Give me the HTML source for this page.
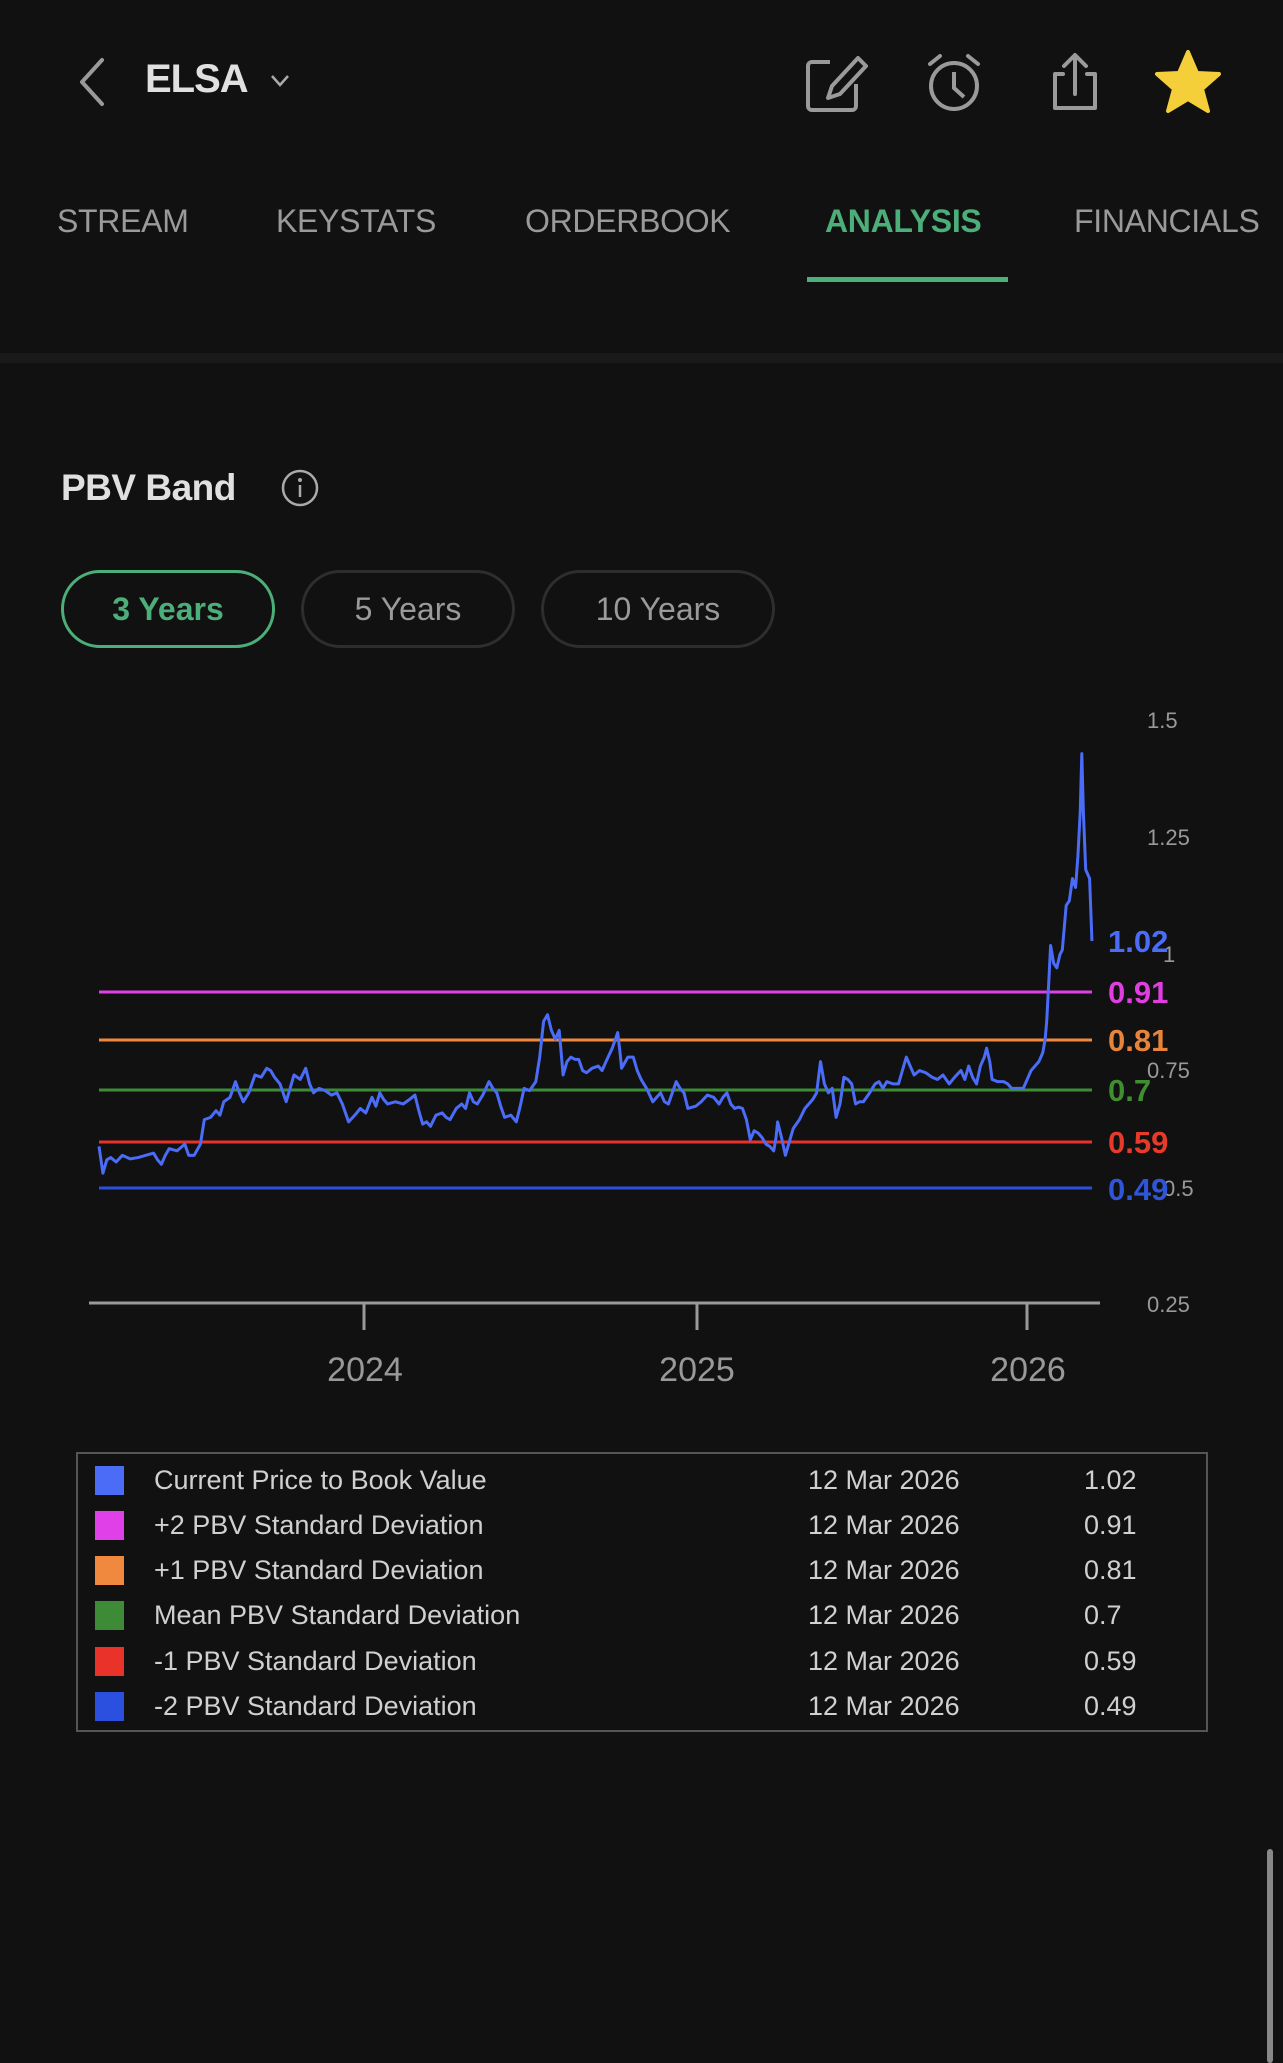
<!DOCTYPE html>
<html><head><meta charset="utf-8">
<style>
body{margin:0;width:1283px;height:2063px;background:#111111;font-family:"Liberation Sans",sans-serif;position:relative;overflow:hidden;color:#ddd}
.a{position:absolute;white-space:nowrap}
.tab{position:absolute;top:203px;font-size:32px;color:#9a9a9a;letter-spacing:-0.3px}
.pill{position:absolute;top:570px;height:78px;border:3px solid #2e2e2e;border-radius:40px;box-sizing:border-box;font-size:32px;color:#9a9a9a;text-align:center;line-height:72px}
.lg{position:absolute;font-size:27px;color:#d0d0d0}
.sq{position:absolute;left:95px;width:29px;height:29px}
</style></head><body>
<svg class="a" style="left:0;top:0" width="1283" height="140">
<polyline points="102,60 82,82 102,104" fill="none" stroke="#9a9a9a" stroke-width="4" stroke-linecap="round" stroke-linejoin="round"/>
<polyline points="272,76 280,85 288,76" fill="none" stroke="#aaa" stroke-width="2.5"/>
<path d="M830 62 h-18 a4 4 0 0 0 -4 4 v40 a4 4 0 0 0 4 4 h40 a4 4 0 0 0 4 -4 v-22" fill="none" stroke="#9a9a9a" stroke-width="4"/>
<path d="M858 58 l8 8 l-26 28 l-12 4 l4 -12 z" fill="none" stroke="#9a9a9a" stroke-width="4" stroke-linejoin="round"/>
<circle cx="954" cy="86" r="23" fill="none" stroke="#9a9a9a" stroke-width="4"/>
<polyline points="954,72 954,88 964,97" fill="none" stroke="#9a9a9a" stroke-width="4"/>
<path d="M930 64 l10 -8 M978 64 l-10 -8" stroke="#9a9a9a" stroke-width="4" stroke-linecap="round"/>
<path d="M1063 74 h-8 v34 h40 v-34 h-8 M1075 94 v-38 M1064 66 l11 -11 l11 11" fill="none" stroke="#9a9a9a" stroke-width="4" stroke-linejoin="round" stroke-linecap="round"/>
<polygon points="1188,52 1197,73 1219,74 1202,89 1208,111 1188,99 1168,111 1174,89 1157,74 1179,73" fill="#f5cf3a" stroke="#f5cf3a" stroke-width="4" stroke-linejoin="round"/>
</svg>
<div class="a" style="left:145px;top:57px;font-size:40px;font-weight:bold;color:#e0e0e0;letter-spacing:-1px">ELSA</div>
<div class="tab" style="left:57px">STREAM</div>
<div class="tab" style="left:276px">KEYSTATS</div>
<div class="tab" style="left:525px">ORDERBOOK</div>
<div class="tab" style="left:825px;color:#4caf7a;font-weight:bold">ANALYSIS</div>
<div class="tab" style="left:1074px">FINANCIALS</div>
<div class="a" style="left:807px;top:277px;width:201px;height:5px;background:#4caf7a"></div>
<div class="a" style="left:0;top:353px;width:1283px;height:10px;background:#1a1a1a"></div>
<div class="a" style="left:61px;top:467px;font-size:37px;font-weight:bold;color:#e0e0e0;letter-spacing:-0.5px">PBV Band</div>
<svg class="a" style="left:280px;top:468px" width="40" height="40"><circle cx="20" cy="20" r="17" fill="none" stroke="#aaa" stroke-width="2.5"/><circle cx="20" cy="12" r="2" fill="#aaa"/><line x1="20" y1="17" x2="20" y2="29" stroke="#aaa" stroke-width="2.5"/></svg>
<div class="pill" style="left:61px;width:214px;border-color:#4caf7a;color:#4caf7a;font-weight:bold">3 Years</div>
<div class="pill" style="left:301px;width:214px">5 Years</div>
<div class="pill" style="left:541px;width:234px">10 Years</div>
<svg class="a" style="left:0;top:0" width="1283" height="1420">
<g font-family="Liberation Sans" font-size="22" fill="#999">
<text x="1147" y="728">1.5</text><text x="1147" y="845">1.25</text><text x="1163" y="962">1</text>
<text x="1147" y="1078">0.75</text><text x="1163" y="1196">0.5</text><text x="1147" y="1312">0.25</text>
</g>
<line x1="99" y1="992" x2="1092" y2="992" stroke="#e040e8" stroke-width="3"/>
<line x1="99" y1="1040" x2="1092" y2="1040" stroke="#f0883e" stroke-width="3"/>
<line x1="99" y1="1090" x2="1092" y2="1090" stroke="#3d8b37" stroke-width="3"/>
<line x1="99" y1="1142" x2="1092" y2="1142" stroke="#e8322a" stroke-width="3"/>
<line x1="99" y1="1188" x2="1092" y2="1188" stroke="#2b50e0" stroke-width="3"/>
<g transform="translate(60,700) scale(0.78,0.4464)">
<polyline fill="none" stroke="#4a6cf7" stroke-width="3" vector-effect="non-scaling-stroke" stroke-linejoin="round" points="50,1000 55,1060 60,1030 65,1025 72,1035 80,1020 90,1028 100,1025 110,1020 120,1015 125,1030 130,1040 135,1020 140,1005 150,1010 160,995 165,1020 172,1020 180,995 185,940 193,935 200,920 205,930 210,900 218,890 225,855 230,880 235,900 242,880 250,840 258,845 265,825 270,830 275,845 282,860 290,900 295,870 300,840 308,850 315,825 320,860 325,880 332,870 340,875 348,885 355,880 362,905 370,945 378,930 385,915 392,925 400,890 405,910 410,880 415,895 420,905 430,900 440,905 448,895 455,885 460,920 465,950 470,945 475,955 482,930 490,925 495,935 500,940 508,915 515,905 520,915 525,880 530,900 535,905 542,885 550,855 555,870 560,880 565,910 570,935 578,930 585,945 590,910 595,870 602,875 610,855 615,800 620,720 625,705 630,740 635,760 640,740 645,840 650,810 655,800 660,805 665,805 670,830 675,835 682,825 690,820 695,830 700,810 708,780 715,745 718,790 720,825 728,800 735,800 740,830 745,850 752,870 760,900 765,890 770,880 775,900 780,905 785,880 790,855 795,870 800,880 805,915 815,910 822,900 830,885 838,890 845,905 850,890 855,880 860,905 865,915 870,912 875,915 880,940 885,985 890,965 895,970 900,980 905,995 910,1000 915,1010 918,980 920,945 925,980 930,1020 935,990 940,960 948,940 955,915 960,905 965,895 970,880 975,810 980,860 985,880 990,870 995,935 1000,905 1005,845 1010,850 1015,860 1020,905 1025,900 1030,900 1038,880 1045,860 1050,855 1055,870 1060,855 1068,860 1075,860 1080,830 1085,800 1090,820 1095,840 1102,830 1110,835 1118,845 1125,850 1132,840 1140,860 1147,845 1155,830 1160,850 1165,820 1170,845 1175,860 1180,820 1185,800 1188,780 1192,810 1195,850 1202,855 1210,855 1215,860 1220,870 1228,870 1235,870 1240,850 1245,830 1250,820 1255,810 1260,790 1263,760 1265,720 1268,620 1270,550 1274,590 1278,600 1282,570 1285,560 1288,500 1290,460 1294,450 1298,400 1302,420 1305,350 1308,250 1310,120 1312,250 1315,380 1320,400 1323,540"/>
</g>
<g font-family="Liberation Sans" font-weight="bold" font-size="31">
<text x="1108" y="952" fill="#4a6cf7">1.02</text>
<text x="1108" y="1003" fill="#e03ee0">0.91</text>
<text x="1108" y="1051" fill="#e8843a">0.81</text>
<text x="1108" y="1101" fill="#3f8f2f">0.7</text>
<text x="1108" y="1153" fill="#e63a2a">0.59</text>
<text x="1108" y="1200" fill="#2f55d8">0.49</text>
</g>
<line x1="89" y1="1303" x2="1100" y2="1303" stroke="#999" stroke-width="3"/>
<g stroke="#999" stroke-width="3"><line x1="364" y1="1303" x2="364" y2="1330"/><line x1="697" y1="1303" x2="697" y2="1330"/><line x1="1027" y1="1303" x2="1027" y2="1330"/></g>
<g font-family="Liberation Sans" font-size="34" fill="#999" text-anchor="middle"><text x="365" y="1381">2024</text><text x="697" y="1381">2025</text><text x="1028" y="1381">2026</text></g>
</svg>
<div class="a" style="left:76px;top:1452px;width:1132px;height:280px;border:2px solid #555;box-sizing:border-box"></div>
<div class="sq" style="top:1466px;background:#4a6cf7"></div><div class="lg" style="left:154px;top:1465px">Current Price to Book Value</div><div class="lg" style="left:808px;top:1465px">12 Mar 2026</div><div class="lg" style="left:1084px;top:1465px">1.02</div>
<div class="sq" style="top:1511px;background:#e040e8"></div><div class="lg" style="left:154px;top:1510px">+2 PBV Standard Deviation</div><div class="lg" style="left:808px;top:1510px">12 Mar 2026</div><div class="lg" style="left:1084px;top:1510px">0.91</div>
<div class="sq" style="top:1556px;background:#f0883e"></div><div class="lg" style="left:154px;top:1555px">+1 PBV Standard Deviation</div><div class="lg" style="left:808px;top:1555px">12 Mar 2026</div><div class="lg" style="left:1084px;top:1555px">0.81</div>
<div class="sq" style="top:1601px;background:#3d8b37"></div><div class="lg" style="left:154px;top:1600px">Mean PBV Standard Deviation</div><div class="lg" style="left:808px;top:1600px">12 Mar 2026</div><div class="lg" style="left:1084px;top:1600px">0.7</div>
<div class="sq" style="top:1647px;background:#e8322a"></div><div class="lg" style="left:154px;top:1646px">-1 PBV Standard Deviation</div><div class="lg" style="left:808px;top:1646px">12 Mar 2026</div><div class="lg" style="left:1084px;top:1646px">0.59</div>
<div class="sq" style="top:1692px;background:#2b50e0"></div><div class="lg" style="left:154px;top:1691px">-2 PBV Standard Deviation</div><div class="lg" style="left:808px;top:1691px">12 Mar 2026</div><div class="lg" style="left:1084px;top:1691px">0.49</div>
<div class="a" style="left:1267px;top:1849px;width:6px;height:214px;background:#888;border-radius:3px"></div>
</body></html>
